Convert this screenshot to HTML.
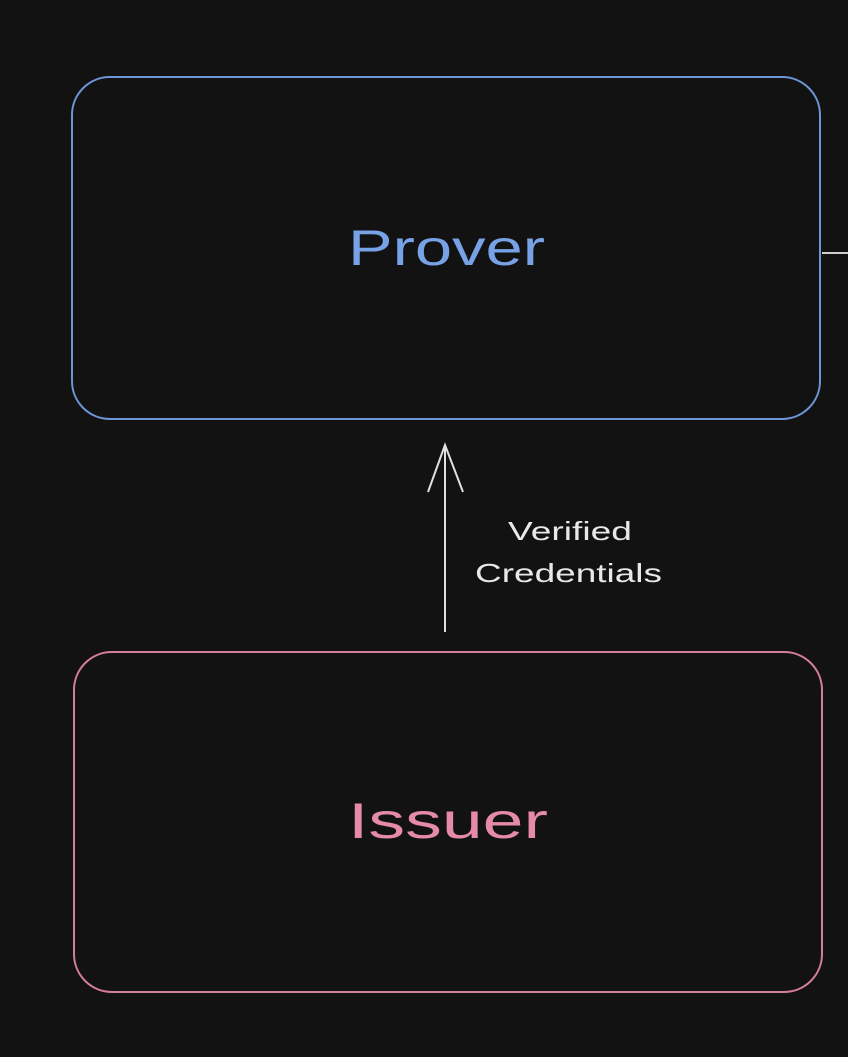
<!DOCTYPE html>
<html><head><style>
html,body{margin:0;padding:0;background:#121212;}
body{width:848px;height:1057px;position:relative;overflow:hidden;font-family:"Liberation Sans",sans-serif;}
</style></head><body>
<svg width="848" height="1057" viewBox="0 0 848 1057" style="position:absolute;left:0;top:0">
<rect x="72" y="77" width="748" height="342" rx="38" fill="none" stroke="#6e95d6" stroke-width="2"/>
<rect x="74" y="652" width="748" height="340" rx="38" fill="none" stroke="#d47d9c" stroke-width="2"/>
<line x1="822" y1="253" x2="848" y2="253" stroke="#cfcfcf" stroke-width="2"/>
<line x1="445" y1="632" x2="445" y2="445" stroke="#e0e0e0" stroke-width="2"/>
<polyline points="428,492 445,445 463,492" fill="none" stroke="#e0e0e0" stroke-width="2"/>
<text x="348" y="265" textLength="197" lengthAdjust="spacingAndGlyphs" font-size="50" fill="#78a2e6">Prover</text>
<text x="348" y="838" textLength="200" lengthAdjust="spacingAndGlyphs" font-size="50" fill="#e58aab">Issuer</text>
<text x="508" y="540" textLength="124" lengthAdjust="spacingAndGlyphs" font-size="26" fill="#e8e8e8">Verified</text>
<text x="475" y="582" textLength="187" lengthAdjust="spacingAndGlyphs" font-size="26" fill="#e8e8e8">Credentials</text>
</svg>
</body></html>
